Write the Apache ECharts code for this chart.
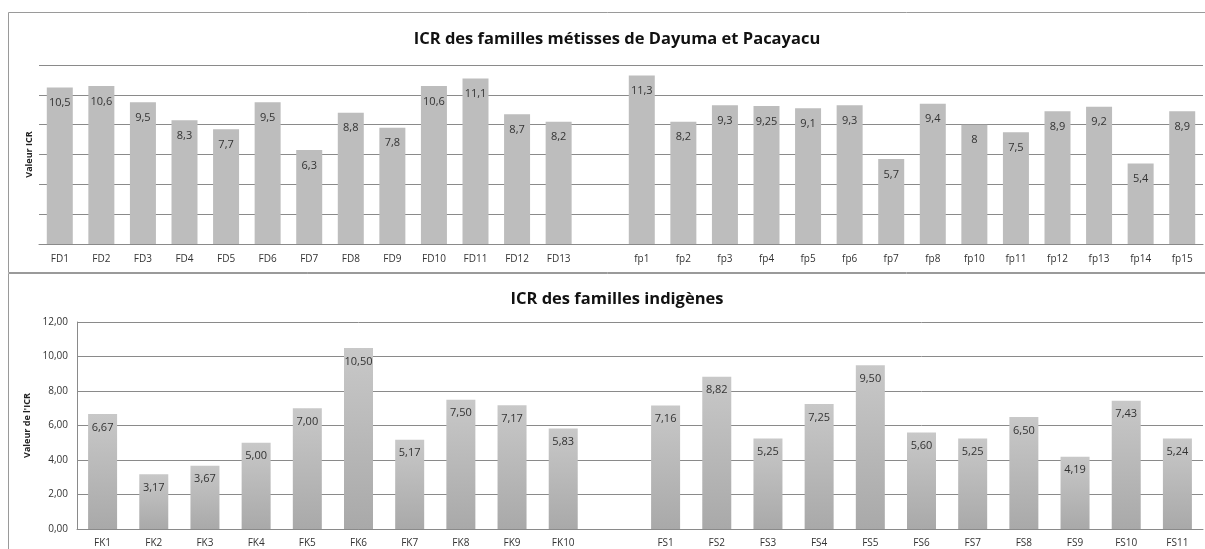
<!DOCTYPE html>
<html>
<head>
<meta charset="utf-8">
<script src="https://cdn.jsdelivr.net/npm/echarts@6/dist/echarts.min.js"></script>
<style>
  html, body { margin: 0; padding: 0; background: #fff; }
  #chart { width: 1205px; height: 549px; }
</style>
</head>
<body>
<div id="chart"></div>
<script type="text/javascript">
	// familles métisses (Dayuma / Pacayacu)
	var fdNames = ['FD1','FD2','FD3','FD4','FD5','FD6','FD7','FD8','FD9','FD10','FD11','FD12','FD13'];
	var fdValues = [10.5, 10.6, 9.5, 8.3, 7.7, 9.5, 6.3, 8.8, 7.8, 10.6, 11.1, 8.7, 8.2];
	var fpNames = ['fp1','fp2','fp3','fp4','fp5','fp6','fp7','fp8','fp10','fp11','fp12','fp13','fp14','fp15'];
	var fpValues = [11.3, 8.2, 9.3, 9.25, 9.1, 9.3, 5.7, 9.4, 8, 7.5, 8.9, 9.2, 5.4, 8.9];
	// familles indigènes
	var fkNames = ['FK1','FK2','FK3','FK4','FK5','FK6','FK7','FK8','FK9','FK10'];
	var fkValues = [6.67, 3.17, 3.67, 5.00, 7.00, 10.50, 5.17, 7.50, 7.17, 5.83];
	var fsNames = ['FS1','FS2','FS3','FS4','FS5','FS6','FS7','FS8','FS9','FS10','FS11'];
	var fsValues = [7.16, 8.82, 5.25, 7.25, 9.50, 5.60, 5.25, 6.50, 4.19, 7.43, 5.24];

	// une catégorie vide entre les deux groupes
	var topCats = fdNames.concat([''], fpNames);
	var topData = fdValues.concat(['-'], fpValues);
	var botCats = fkNames.concat([''], fsNames);
	var botData = fkValues.concat(['-'], fsValues);

	var font = '"Open Sans", "DejaVu Sans", sans-serif';
	var axisCol = '#8a8a8a';

	var myChart = echarts.init(document.getElementById('chart'));
	var option = {
		animation: false,
		backgroundColor: '#fff',
		textStyle: { fontFamily: font },
		title: [
			{ text: 'ICR des familles métisses de Dayuma et Pacayacu', left: 612, top: 26, textAlign: 'center',
			  textStyle: { fontSize: 16.5, fontWeight: 'bold', color: '#111', fontFamily: font } },
			{ text: 'ICR des familles indigènes', left: 612, top: 286, textAlign: 'center',
			  textStyle: { fontSize: 16.5, fontWeight: 'bold', color: '#111', fontFamily: font } }
		],
		graphic: [
			{ type: 'rect', shape: { x: 8.5, y: 12.5, width: 1210, height: 260 }, style: { fill: 'none', stroke: '#9a9a9a', lineWidth: 1 } },
			{ type: 'rect', shape: { x: 8.5, y: 273.5, width: 1210, height: 300 }, style: { fill: 'none', stroke: '#9a9a9a', lineWidth: 1 } }
		],
		grid: [
			{ left: 39, right: 2, top: 65, height: 179 },
			{ left: 77, right: 2, top: 322, height: 207 }
		],
		xAxis: [
			{ type: 'category', gridIndex: 0, data: topCats,
			  axisTick: { show: false }, axisLine: { lineStyle: { color: axisCol } },
			  axisLabel: { color: '#333', fontSize: 10, margin: 10, interval: 0 } },
			{ type: 'category', gridIndex: 1, data: botCats,
			  axisTick: { show: false }, axisLine: { lineStyle: { color: axisCol } },
			  axisLabel: { color: '#333', fontSize: 10, margin: 9, interval: 0 } }
		],
		yAxis: [
			{ type: 'value', gridIndex: 0, min: 0, max: 12, interval: 2,
			  name: 'Valeur ICR', nameLocation: 'middle', nameRotate: 90, nameGap: 5,
			  nameTextStyle: { fontSize: 9, fontWeight: 'bold', color: '#222' },
			  axisLabel: { show: false }, axisTick: { show: false }, axisLine: { show: false },
			  splitLine: { lineStyle: { color: axisCol } } },
			{ type: 'value', gridIndex: 1, min: 0, max: 12, interval: 2,
			  name: "Valeur de l'ICR", nameLocation: 'middle', nameRotate: 90, nameGap: 42,
			  nameTextStyle: { fontSize: 9, fontWeight: 'bold', color: '#222' },
			  axisLabel: { color: '#333', fontSize: 10, margin: 9,
			    formatter: function (v) { return v.toFixed(2).replace('.', ','); } },
			  axisTick: { show: false }, axisLine: { show: true, lineStyle: { color: axisCol } },
			  splitLine: { lineStyle: { color: axisCol } } }
		],
		series: [
			{ type: 'bar', xAxisIndex: 0, yAxisIndex: 0, data: topData, barWidth: 26,
			  itemStyle: { color: '#bdbdbd' },
			  label: { show: true, position: 'insideTop', distance: 10, fontSize: 11, color: '#333',
			    formatter: function (p) { return String(p.value).replace('.', ','); } } },
			{ type: 'bar', xAxisIndex: 1, yAxisIndex: 1, data: botData, barWidth: 29,
			  itemStyle: { color: new echarts.graphic.LinearGradient(0, 0, 0, 1, [
			    { offset: 0, color: '#c8c8c8' }, { offset: 1, color: '#a9a9a9' }]) },
			  label: { show: true, position: 'insideTop', distance: 8, fontSize: 11, color: '#333',
			    formatter: function (p) { return p.value.toFixed(2).replace('.', ','); } } }
		]
	};
	myChart.setOption(option);
</script>
</body>
</html>
